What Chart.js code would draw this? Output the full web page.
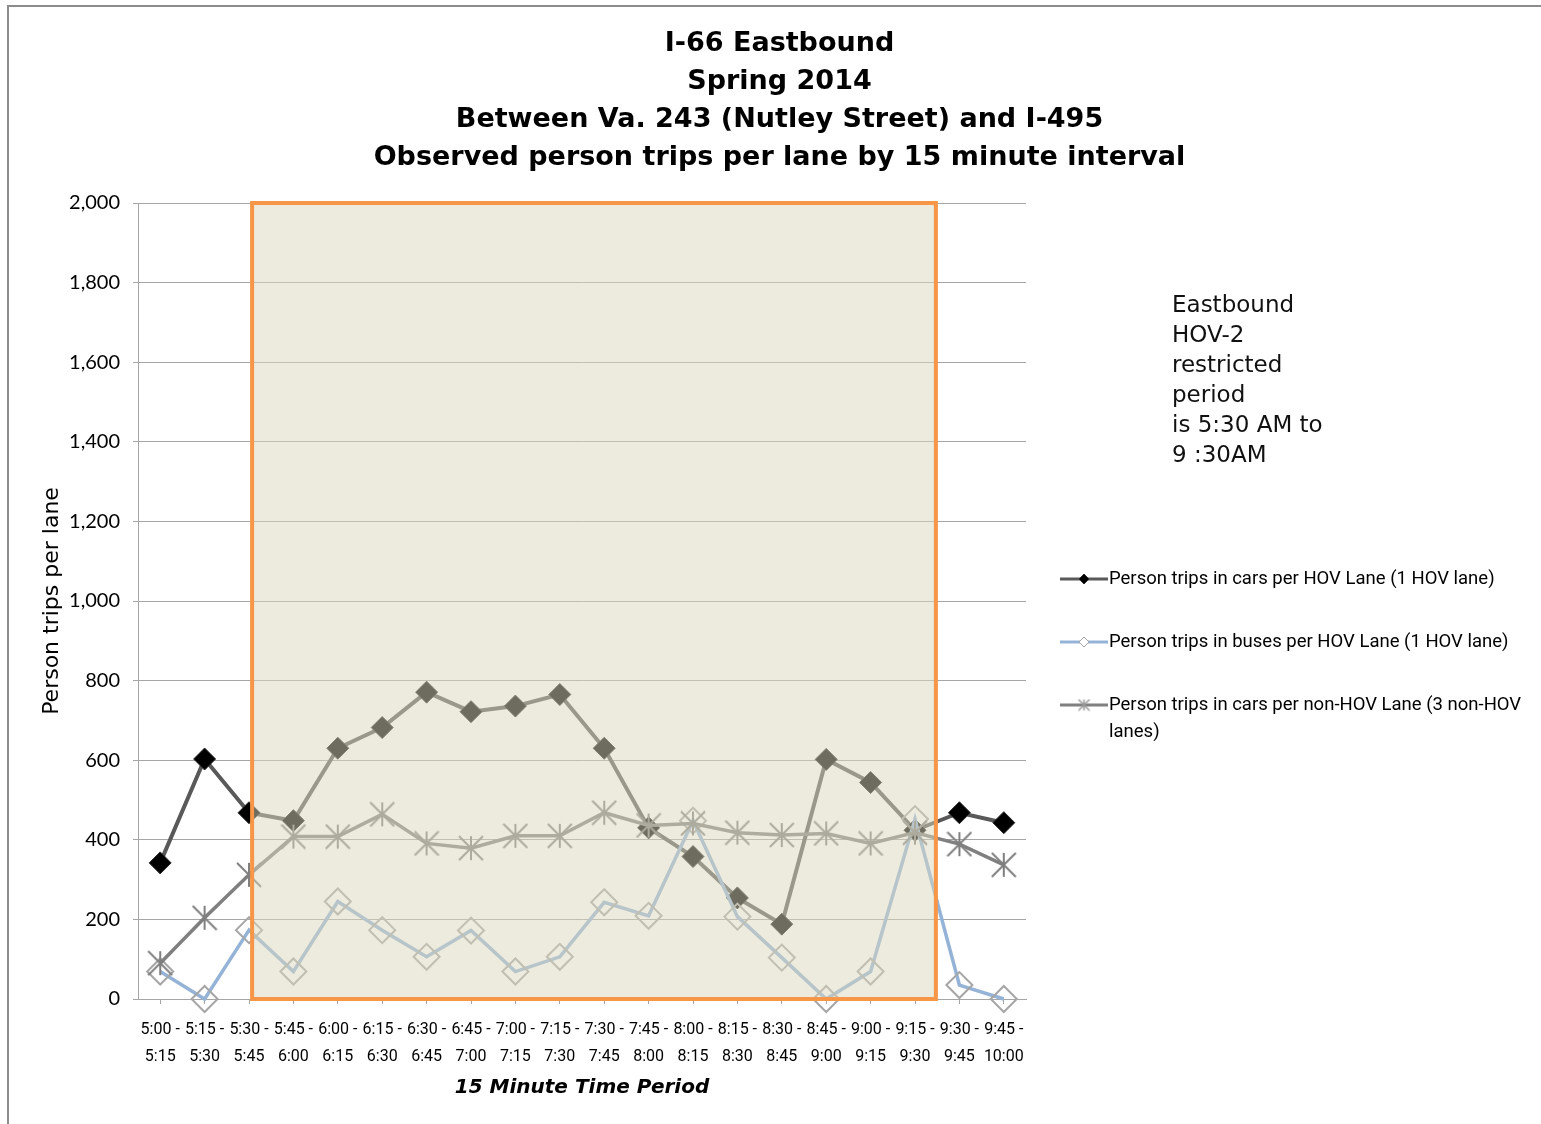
<!DOCTYPE html>
<html>
<head>
<meta charset="utf-8">
<title>I-66 Eastbound person trips per lane</title>
<script src="https://cdn.jsdelivr.net/npm/chart.js@4.4.1/dist/chart.umd.min.js"></script>
<style>
  html, body { margin: 0; padding: 0; background: #fff; }
  #chart { position: absolute; left: 0; top: 0; }
  .frame {
    position: absolute; left: 7px; top: 5px; width: 1534px; height: 1119px;
    border-left: 2px solid #8c8c8c; border-top: 2px solid #8c8c8c;
    pointer-events: none;
  }
</style>
</head>
<body>
<canvas id="chart" width="1541" height="1124"></canvas>
<div class="frame"></div>
<script>
// 15 minute periods
const periodStarts = ['5:00', '5:15', '5:30', '5:45', '6:00', '6:15', '6:30', '6:45', '7:00', '7:15',
  '7:30', '7:45', '8:00', '8:15', '8:30', '8:45', '9:00', '9:15', '9:30', '9:45'];
const periodEnds = ['5:15', '5:30', '5:45', '6:00', '6:15', '6:30', '6:45', '7:00', '7:15', '7:30',
  '7:45', '8:00', '8:15', '8:30', '8:45', '9:00', '9:15', '9:30', '9:45', '10:00'];

// person trips per lane
const hovCarTrips = [342, 603, 468, 448, 630, 682, 771, 722, 736, 765, 630, 430, 358, 254, 188, 602, 544, 424, 468, 443];
const hovBusTrips = [69, 0, 173, 69, 245, 173, 106, 172, 69, 106, 243, 209, 448, 207, 104, 0, 69, 452, 35, 0];
const nonHovCarTrips = [90, 204, 312, 408, 408, 464, 391, 379, 410, 410, 468, 436, 441, 418, 412, 416, 391, 418, 389, 337];

const seriesNames = [
  'Person trips in cars per HOV Lane (1 HOV lane)',
  'Person trips in buses per HOV Lane (1 HOV lane)',
  'Person trips in cars per non-HOV Lane (3 non-HOV lanes)',
];
const titleLines = [
  'I-66 Eastbound',
  'Spring 2014',
  'Between Va. 243 (Nutley Street) and I-495',
  'Observed person trips per lane by 15 minute interval',
];
const noteLines = ['Eastbound', 'HOV-2', 'restricted', 'period', 'is 5:30 AM to', '9 :30AM'];

// HOV-2 restricted period, in category positions (5:30 .. 9:30)
const restrictedStart = 2.07;
const restrictedEnd = 17.47;

const tickFamily = 'Roboto, sans-serif';
const wideFamily = '"DejaVu Sans", sans-serif';

const makeAsterisk = (size, color, width) => {
  const c = document.createElement('canvas');
  c.width = size;
  c.height = size;
  const g = c.getContext('2d');
  const m = size / 2;
  const r = size / 2 - 1;
  g.strokeStyle = color;
  g.lineWidth = width;
  g.beginPath();
  g.moveTo(m, m - r); g.lineTo(m, m + r);
  g.moveTo(m - r, m - r); g.lineTo(m + r, m + r);
  g.moveTo(m + r, m - r); g.lineTo(m - r, m + r);
  g.stroke();
  return c;
};

const asterisk = makeAsterisk(26, '#7f7f7f', 2);
const smallAsterisk = makeAsterisk(13, '#9a9a9a', 1.5);

const restrictedPeriod = {
  id: 'restrictedPeriod',
  afterDatasetsDraw(chart) {
    const { ctx, scales: { x, y } } = chart;
    const left = x.getPixelForValue(restrictedStart);
    const right = x.getPixelForValue(restrictedEnd);
    const top = y.getPixelForValue(y.max);
    const bottom = y.getPixelForValue(0);
    ctx.save();
    ctx.fillStyle = 'rgba(217, 215, 190, 0.5)';
    ctx.fillRect(left, top, right - left, bottom - top);
    ctx.strokeStyle = '#f79646';
    ctx.lineWidth = 4;
    ctx.strokeRect(left, top, right - left, bottom - top);
    ctx.restore();
  },
};

const wrapText = (ctx, text, maxWidth) => {
  const lines = [];
  let line = '';
  text.split(' ').forEach((word) => {
    const test = line ? `${line} ${word}` : word;
    if (ctx.measureText(test).width > maxWidth && line) {
      lines.push(line);
      line = word;
    } else {
      line = test;
    }
  });
  lines.push(line);
  return lines;
};

const sideNotes = {
  id: 'sideNotes',
  afterDraw(chart) {
    const { ctx, chartArea } = chart;
    ctx.save();
    // note about the restricted period
    ctx.fillStyle = '#111';
    ctx.font = `23px ${wideFamily}`;
    ctx.textBaseline = 'middle';
    ctx.textAlign = 'left';
    noteLines.forEach((line, i) => {
      ctx.fillText(line, chartArea.right + 146, chartArea.top + 103 + i * 30);
    });

    // legend
    const x0 = chartArea.right + 34;
    ctx.font = `18.5px ${tickFamily}`;
    chart.data.datasets.forEach((ds, i) => {
      const yy = chartArea.top + 376 + i * 63;
      ctx.strokeStyle = ds.borderColor;
      ctx.lineWidth = 3;
      ctx.beginPath();
      ctx.moveTo(x0, yy);
      ctx.lineTo(x0 + 48, yy);
      ctx.stroke();
      if (ds.pointStyle === asterisk) {
        Chart.helpers.drawPoint(ctx, { pointStyle: smallAsterisk, radius: 6, rotation: 0, borderWidth: 0 }, x0 + 24, yy);
      } else {
        ctx.fillStyle = ds.legendFill;
        ctx.strokeStyle = ds.pointBorderColor;
        ctx.lineWidth = 1;
        Chart.helpers.drawPoint(ctx, { pointStyle: 'rectRot', radius: 5, rotation: 0, borderWidth: 1 }, x0 + 24, yy);
      }
      ctx.fillStyle = '#000';
      const lines = wrapText(ctx, ds.label, 425);
      lines.forEach((line, k) => ctx.fillText(line, x0 + 49, yy + k * 27));
    });
    ctx.restore();
  },
};

new Chart(document.getElementById('chart'), {
  type: 'line',
  data: {
    labels: periodStarts.map((s, i) => [`${s} -`, periodEnds[i]]),
    datasets: [
      {
        label: seriesNames[0],
        data: hovCarTrips,
        borderColor: '#595959',
        borderWidth: 4,
        pointStyle: 'rectRot',
        pointRadius: 11,
        pointBackgroundColor: '#000',
        pointBorderColor: '#2a2a2a',
        pointBorderWidth: 1,
        legendFill: '#000',
        order: 3,
        clip: false,
      },
      {
        label: seriesNames[1],
        data: hovBusTrips,
        borderColor: '#95b3d7',
        borderWidth: 3.5,
        pointStyle: 'rectRot',
        pointRadius: 13,
        pointBackgroundColor: 'rgba(255,255,255,0)',
        pointBorderColor: '#a6a6a6',
        pointBorderWidth: 2,
        legendFill: '#fff',
        order: 2,
        clip: false,
      },
      {
        label: seriesNames[2],
        data: nonHovCarTrips,
        borderColor: '#808080',
        borderWidth: 3.5,
        pointStyle: asterisk,
        pointRadius: 13,
        order: 1,
        clip: false,
      },
    ],
  },
  options: {
    responsive: false,
    animation: false,
    devicePixelRatio: 1,
    events: [],
    layout: { padding: { left: 18, top: 0, right: 0, bottom: 0 } },
    elements: { line: { tension: 0 } },
    plugins: {
      legend: { display: false },
      tooltip: { enabled: false },
      title: {
        display: true,
        text: titleLines,
        color: '#000',
        font: { family: wideFamily, size: 27, weight: 'bold', lineHeight: 38 / 27 },
        padding: { top: 25, bottom: 26 },
      },
    },
    scales: {
      x: {
        offset: true,
        grid: { drawOnChartArea: false, tickLength: 5, color: '#a6a6a6' },
        border: { color: '#a6a6a6' },
        ticks: {
          autoSkip: false,
          maxRotation: 0,
          minRotation: 0,
          color: '#000',
          padding: 12,
          font: { family: tickFamily, size: 16, lineHeight: 27 / 16 },
        },
        title: {
          display: true,
          text: '15 Minute Time Period',
          color: '#000',
          font: { family: wideFamily, size: 20, weight: 'bold', style: 'italic', lineHeight: 1.2 },
          padding: { top: 0, bottom: 24 },
        },
        afterFit: (scale) => { scale.height = 125; },
      },
      y: {
        min: 0,
        max: 2000,
        grid: { color: '#a6a6a6', tickLength: 5 },
        border: { color: '#a6a6a6' },
        ticks: {
          stepSize: 200,
          color: '#000',
          padding: 13,
          font: { family: 'Lato, sans-serif', size: 20 },
        },
        title: {
          display: true,
          text: 'Person trips per lane',
          color: '#000',
          font: { family: wideFamily, size: 22, lineHeight: 1.2 },
          padding: { top: 21, bottom: 0 },
        },
        afterFit: (scale) => { scale.width = 120; },
      },
      side: {
        position: 'right',
        min: 0,
        max: 1,
        grid: { display: false },
        border: { display: false },
        ticks: { display: false },
        afterFit: (scale) => { scale.width = 515; },
      },
    },
  },
  plugins: [restrictedPeriod, sideNotes],
});
</script>
</body>
</html>
